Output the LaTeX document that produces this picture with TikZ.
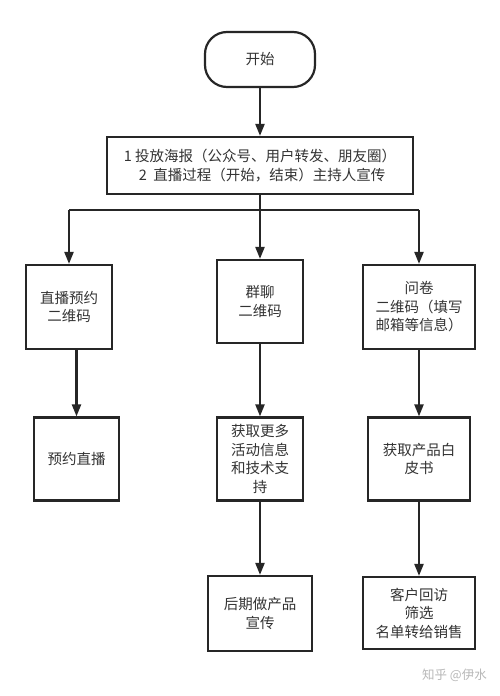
\documentclass[tikz,border=0pt]{standalone}
\usepackage{fontspec}
\setmainfont{Noto Sans CJK SC}
\usetikzlibrary{arrows.meta}
\definecolor{ln}{HTML}{262626}
\definecolor{tx}{HTML}{333333}
\definecolor{wm}{HTML}{B8B8B8}
\begin{document}
\begin{tikzpicture}[x=1pt,y=-1pt,
  box/.style={draw=ln,line width=2.2pt,fill=white,inner sep=0pt,align=center,
    text=tx,font=\fontsize{14.5}{18.5}\selectfont},
  arr/.style={draw=ln,line width=2.2pt,-{Triangle[length=12pt,width=9pt]}},
  ln/.style={draw=ln,line width=2.2pt}]
\useasboundingbox[fill=white] (0,0) rectangle (500,696);
\node[box,rounded corners=22pt,minimum width=110pt,minimum height=55pt] (start) at (260,59.5) {开始};
\node[box,minimum width=306pt,minimum height=57pt] (pub) at (260,165.5) {1 投放海报（公众号、用户转发、朋友圈）\\\hspace*{0.3em}2\ \ 直播过程（开始，结束）主持人宣传};
\node[box,minimum width=86pt,minimum height=84pt] (b1) at (69,307) {直播预约\\二维码};
\node[box,minimum width=86pt,minimum height=83pt] (b2) at (260,301.5) {群聊\\二维码};
\node[box,minimum width=112pt,minimum height=84pt] (b3) at (419,307) {问卷\\二维码（填写\\邮箱等信息）};
\node[box,minimum width=85pt,minimum height=83pt] (c1) at (76.5,459) {预约直播};
\node[box,minimum width=86pt,minimum height=83pt] (c2) at (260,459) {获取更多\\活动信息\\和技术支\\持};
\node[box,minimum width=102pt,minimum height=83pt] (c3) at (419,459) {获取产品白\\皮书};
\node[box,minimum width=104pt,minimum height=75pt] (d2) at (260,613.5) {后期做产品\\宣传};
\node[box,minimum width=112pt,minimum height=72pt] (d3) at (419,613) {客户回访\\筛选\\名单转给销售};
\coordinate (jl) at (69,210);
\coordinate (jr) at (419,210);
\draw[arr] (start) -- (pub);
\draw[arr] (pub) -- (b2);
\draw[ln] (jl) -- (jr);
\draw[arr] (jl) -- (b1);
\draw[arr] (jr) -- (b3);
\draw[arr] (c1.north |- b1.south) -- (c1.north);
\draw[arr] (b2) -- (c2);
\draw[arr] (b3) -- (c3);
\draw[arr] (c2) -- (d2);
\draw[arr] (c3) -- (d3);
\node[text=wm,font=\fontsize{12.5}{14}\selectfont,anchor=east,inner sep=0pt] (wmk) at (487,675) {知乎 @伊水};
\end{tikzpicture}
\end{document}
